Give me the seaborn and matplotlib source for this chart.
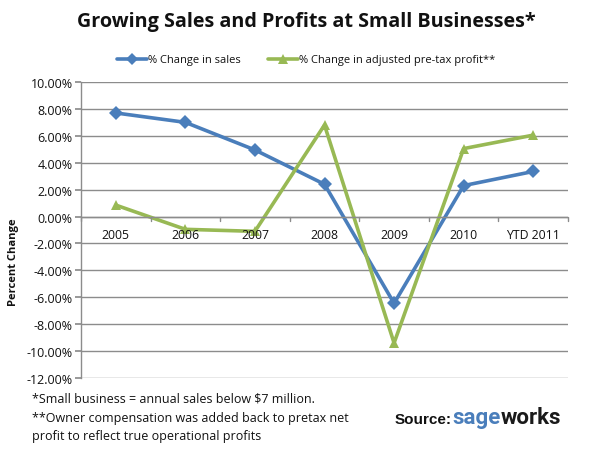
import matplotlib
matplotlib.use("Agg")
import matplotlib.pyplot as plt
import seaborn as sns
import pandas as pd
from matplotlib.ticker import FuncFormatter, FixedLocator
from matplotlib.lines import Line2D

categories = ["2005", "2006", "2007", "2008", "2009", "2010", "YTD 2011"]
sales = [7.7, 7.0, 4.95, 2.4, -6.45, 2.3, 3.35]
profit = [0.85, -0.95, -1.1, 6.8, -9.4, 5.05, 6.05]
series_names = ["% Change in sales", "% Change in adjusted pre-tax profit**"]
yticks = [10, 8, 6, 4, 2, 0, -2, -4, -6, -8, -10, -12]

sns.set_theme(style="white")
plt.rcParams['font.family'] = ['Open Sans', 'DejaVu Sans']

df = pd.DataFrame({
    "pos": list(range(len(categories))) * 2,
    "value": sales + profit,
    "series": [series_names[0]] * len(categories) + [series_names[1]] * len(categories),
})

fig = plt.figure(figsize=(6.11, 4.56), dpi=100)
ax = fig.add_axes([81/611, 1-379/456, (568-81)/611, (379-83)/456])

palette = {series_names[0]: "#4a7ebb", series_names[1]: "#98b954"}
sns.lineplot(data=df, x="pos", y="value", hue="series", style="series",
             markers={series_names[0]: "D", series_names[1]: "^"},
             dashes=False, palette=palette, linewidth=2.6, markersize=7,
             markeredgewidth=0, ax=ax, legend=False)

ax.set_xlim(-0.5, len(categories) - 0.5)
ax.set_ylim(-12, 10)
ax.yaxis.set_major_locator(FixedLocator(yticks))
ax.yaxis.set_major_formatter(FuncFormatter(lambda v, p: f"{v:.2f}%"))
ax.grid(axis="y", color="#8c8c8c", linewidth=1)
ax.set_axisbelow(True)
for s in ["top", "right", "bottom"]:
    ax.spines[s].set_visible(False)
ax.spines["left"].set_color("#8c8c8c")
ax.spines["left"].set_linewidth(1)
ax.tick_params(axis="y", length=4, color="#8c8c8c", direction="out", labelsize=9, pad=2,
               labelcolor="#111111")
ax.tick_params(axis="y", which="major", left=True)

# x-axis line at zero with category separators
ax.axhline(0, color="#8c8c8c", linewidth=1)
ax.set_xticks([])
for b in range(len(categories) + 1):
    ax.plot([b - 0.5, b - 0.5], [0, -0.3], color="#8c8c8c", linewidth=1, clip_on=False)
for i, c in enumerate(categories):
    ax.text(i, -1.35, c, ha="center", va="center", fontsize=8.8, color="#111111")

ax.set_xlabel("")
ax.set_ylabel("")
fig.text(14/611, 1-262/456, "Percent Change", rotation=90, ha="center", va="center",
         fontsize=8, fontweight="bold", color="#111111")

fig.text(306/611, 1-22/456, "Growing Sales and Profits at Small Businesses*", ha="center",
         va="center", fontsize=14.2, fontweight="bold", color="#111111")

# legend
handles = [Line2D([], [], color=palette[series_names[0]], marker="D", markersize=6, linewidth=2.6, markeredgewidth=0),
           Line2D([], [], color=palette[series_names[1]], marker="^", markersize=7, linewidth=2.6, markeredgewidth=0)]
fig.legend(handles, series_names, loc="center", bbox_to_anchor=(306/611, 1-61/456), ncol=2,
           frameon=False, fontsize=8, handlelength=2.7, handletextpad=0.1, columnspacing=2.4,
           labelcolor="#111111")

fig.text(32/611, 1-399/456, "*Small business = annual sales below $7 million.", fontsize=9,
         va="center", ha="left", color="#111111")
fig.text(32/611, 1-419/456, "**Owner compensation was added back to pretax net", fontsize=9,
         va="center", ha="left", color="#111111")
fig.text(32/611, 1-437/456, "profit to reflect true operational profits", fontsize=9,
         va="center", ha="left", color="#111111")

fig.text(452/611, 1-420/456, "Source:", fontsize=11, fontweight="bold", va="center",
         ha="right", color="#111111", family=["Liberation Sans", "DejaVu Sans"])
fig.text(501/611, 1-418/456, "sage", fontsize=16, fontweight="bold", va="center",
         ha="right", color="#4a7ebb", family=["Roboto", "DejaVu Sans"])
fig.text(501/611, 1-418/456, "works", fontsize=16, fontweight="bold", va="center",
         ha="left", color="#1a1a1a", family=["Roboto", "DejaVu Sans"])

fig.savefig("out.png", dpi=100)
